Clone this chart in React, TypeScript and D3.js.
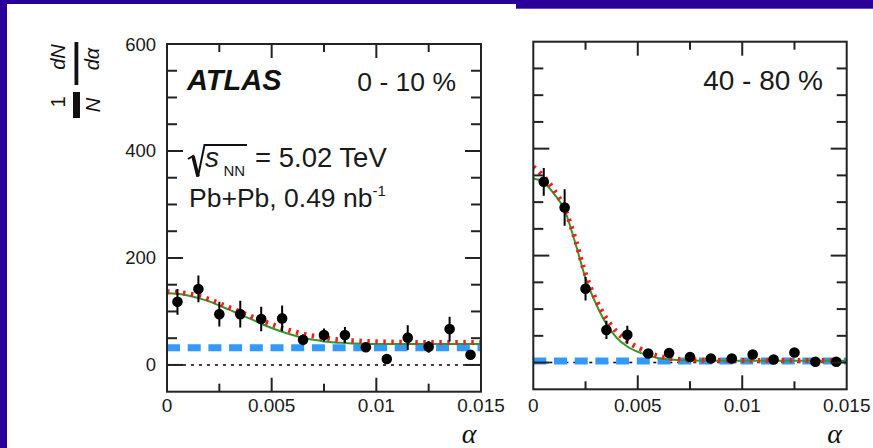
import React from 'react';
import * as d3 from 'd3';

// ---------- data ----------
const binCenters = [0.0005, 0.0015, 0.0025, 0.0035, 0.0045, 0.0055, 0.0065, 0.0075, 0.0085, 0.0095, 0.0105, 0.0115, 0.0125, 0.0135, 0.0145];
const values010 = [118, 142, 95, 95, 86, 87, 47, 56, 56, 33, 11, 51, 34, 67, 19];
const errors010 = [24, 25, 23, 25, 23, 24, 10, 12, 15, 9, 9, 23, 11, 23, 8];
const values4080 = [338, 290, 138, 61, 52, 17, 18, 10.5, 7.5, 7.5, 15, 5.6, 18.7, 1.5, 1.5];
const errors4080 = [26, 34, 22, 17, 17, 8, 8, 6, 6, 6, 8, 6, 8, 5, 5];

const fitAlpha = [0, 0.0005, 0.001, 0.0015, 0.002, 0.0025, 0.003, 0.0035, 0.004, 0.0045, 0.005, 0.0055, 0.006, 0.0065, 0.007, 0.0075, 0.008, 0.0085, 0.009, 0.0095, 0.01, 0.0105, 0.011, 0.0115, 0.012, 0.0125, 0.013, 0.0135, 0.014, 0.0145, 0.015];
const greenFit010 = [134, 133, 130, 125, 119, 111, 103, 94, 86, 77, 69, 62, 56, 51, 47, 44, 42, 41, 40, 39.5, 39, 39, 39, 39, 39, 39, 39, 39, 39, 39, 39];
const redFit010 = [137, 136, 133, 129, 123, 115, 107, 99, 91, 83, 76, 69, 63, 58, 54, 51, 48, 46, 45, 44, 43.5, 43, 42.5, 42.5, 42, 42, 42, 42, 42, 42, 42];
const greenFit4080 = [344, 337, 315, 285, 225, 158, 110, 72, 46, 30, 20, 13, 8, 5.5, 4.5, 4, 3.5, 3.5, 3.5, 3.5, 3.5, 3.5, 3.5, 3.5, 3.5, 3.5, 3.5, 3.5, 3.5, 3.5, 3.5];
const redFit4080 = [366, 348, 322, 288, 232, 165, 117, 82, 57, 40, 28, 19, 12, 8, 6, 5, 4.5, 4.5, 4, 4, 4, 4, 4, 4, 4, 4, 4, 4, 4, 4, 4];
const baseline010 = 32;
const baseline4080 = 3;

const xDomain = [0, 0.015];
const yDomain = [-50, 600];
const xTickValues = [0, 0.005, 0.01, 0.015];
const xTickLabels = ['0', '0.005', '0.01', '0.015'];
const xMinorTicks = [0.0025, 0.005, 0.0075, 0.01, 0.0125];
const yTickValues = [0, 200, 400, 600];
const yTickLabels = ['0', '200', '400', '600'];
const yMinorTicks = [0, 50, 100, 150, 200, 250, 300, 350, 400, 450, 500, 550];

const SANS = "'Liberation Sans', Arial, Helvetica, sans-serif";
const SERIF = "'Liberation Serif', 'Times New Roman', serif";

type PanelProps = {
  x0: number; x1: number; yTop: number; yBot: number;
  values: number[]; errors: number[];
  green: number[]; red: number[]; base: number;
  id: string; showYLabels: boolean;
};

function Panel(p: PanelProps) {
  const x = d3.scaleLinear().domain(xDomain).range([p.x0, p.x1]);
  const y = d3.scaleLinear().domain(yDomain).range([p.yBot, p.yTop]);
  const line = d3.line<number>()
    .x((_, i) => x(fitAlpha[i]))
    .y((d) => y(d))
    .curve(d3.curveMonotoneX);
  const fc = '#222';
  return (
    <g>
      <defs>
        <clipPath id={p.id}>
          <rect x={p.x0} y={p.yTop} width={p.x1 - p.x0} height={p.yBot - p.yTop} />
        </clipPath>
      </defs>
      <g clipPath={`url(#${p.id})`}>
        <line x1={x(0)} x2={x(0.015)} y1={y(0)} y2={y(0)} stroke="#000" strokeWidth={1.5} strokeDasharray="3,5" />
        <line x1={x(0)} x2={x(0.015)} y1={y(p.base)} y2={y(p.base)} stroke="#3399ff" strokeWidth={7} strokeDasharray="13,7.7" />
        <path d={line(p.green) || ''} fill="none" stroke="#2e9a2e" strokeWidth={2} />
        <path d={line(p.red) || ''} fill="none" stroke="#ff1a1a" strokeWidth={5} strokeDasharray="2.5,5.5" />
        {binCenters.map((c, i) => (
          <line key={'e' + i} x1={x(c)} x2={x(c)} y1={y(p.values[i] - p.errors[i])} y2={y(p.values[i] + p.errors[i])} stroke="#000" strokeWidth={2} />
        ))}
        {binCenters.map((c, i) => (
          <circle key={'m' + i} cx={x(c)} cy={y(p.values[i])} r={5.3} fill="#000" />
        ))}
      </g>
      {xMinorTicks.map((t, i) => {
        const major = Math.abs(t % 0.005) < 1e-9 || Math.abs((t % 0.005) - 0.005) < 1e-9;
        const len = major ? 14 : 8;
        return (
          <g key={'xt' + i}>
            <line x1={x(t)} x2={x(t)} y1={p.yBot} y2={p.yBot - len} stroke={fc} strokeWidth={2} />
            <line x1={x(t)} x2={x(t)} y1={p.yTop} y2={p.yTop + len} stroke={fc} strokeWidth={2} />
          </g>
        );
      })}
      {yMinorTicks.map((t, i) => {
        const major = t % 200 === 0;
        const len = major ? 16 : 10;
        return (
          <g key={'yt' + i}>
            <line x1={p.x0} x2={p.x0 + len} y1={y(t)} y2={y(t)} stroke={fc} strokeWidth={2} />
            <line x1={p.x1} x2={p.x1 - len} y1={y(t)} y2={y(t)} stroke={fc} strokeWidth={2} />
          </g>
        );
      })}
      <rect x={p.x0} y={p.yTop} width={p.x1 - p.x0} height={p.yBot - p.yTop} fill="none" stroke={fc} strokeWidth={2} />
      {xTickValues.map((t, i) => (
        <text key={'xl' + i} x={x(t)} y={405.5} textAnchor="middle" dominantBaseline="central" fontFamily={SANS} fontSize={19} fill="#1a1a1a">{xTickLabels[i]}</text>
      ))}
      {p.showYLabels && yTickValues.map((t, i) => (
        <text key={'yl' + i} x={156} y={y(t)} textAnchor="end" dominantBaseline="central" fontFamily={SANS} fontSize={18.5} fill="#1a1a1a">{yTickLabels[i]}</text>
      ))}
      <text x={(p.x1 - 12)} y={443} textAnchor="middle" fontFamily={SERIF} fontStyle="italic" fontSize={28} fill="#111">α</text>
    </g>
  );
}

export default function App() {
  const blue = '#2a0098';
  return (
    <svg width={873} height={448} style={{ position: 'absolute', left: 0, top: 0, background: '#fff' }}>
      <rect x={0} y={0} width={873} height={448} fill="#fff" />
      <rect x={0} y={0} width={873} height={4} fill={blue} />
      <rect x={516} y={0} width={357} height={8.7} fill={blue} />
      <rect x={0} y={0} width={7} height={448} fill={blue} />

      <Panel id="cl" x0={167} x1={481} yTop={44} yBot={391.7} values={values010} errors={errors010} green={greenFit010} red={redFit010} base={baseline010} showYLabels={true} />
      <Panel id="cr" x0={533.3} x1={846.7} yTop={41.7} yBot={389.3} values={values4080} errors={errors4080} green={greenFit4080} red={redFit4080} base={baseline4080} showYLabels={false} />

      <text x={187} y={90} fontFamily={SANS} fontWeight="bold" fontStyle="italic" fontSize={29} fill="#111">ATLAS</text>
      <text x={456} y={91} textAnchor="end" fontFamily={SANS} fontSize={26.5} fill="#1a1a1a">0 - 10 %</text>
      <text x={823} y={90} textAnchor="end" fontFamily={SANS} fontSize={28} fill="#1a1a1a">40 - 80 %</text>

      <path d="M188,159 L193,156 L198,176.5 L204.5,145 L247,145" fill="none" stroke="#111" strokeWidth={2} strokeLinejoin="miter" />
      <path d="M193,156 L198,176.5" fill="none" stroke="#111" strokeWidth={3.5} />
      <text x={205} y={166.7} fontFamily={SANS} fontStyle="italic" fontSize={28} fill="#1a1a1a">s</text>
      <text x={223.5} y={176} fontFamily={SANS} fontSize={15} fill="#1a1a1a">NN</text>
      <text x={255} y={166.7} fontFamily={SANS} fontSize={27.5} fill="#1a1a1a">= 5.02 TeV</text>
      <text x={189} y={206.7} fontFamily={SANS} fontSize={26.5} fill="#1a1a1a">
        Pb+Pb, 0.49 nb<tspan dy={-11} fontSize={15}>-1</tspan>
      </text>

      <text transform="translate(65,57) rotate(-90)" textAnchor="middle" fontFamily={SANS} fontStyle="italic" fontSize={20} fill="#111">dN</text>
      <rect x={74.5} y={42} width={3.8} height={43} fill="#111" />
      <text transform="translate(99,59) rotate(-90)" textAnchor="middle" fontFamily={SANS} fontStyle="italic" fontSize={20} fill="#111">dα</text>
      <text transform="translate(65,102) rotate(-90)" textAnchor="middle" fontFamily={SANS} fontSize={20} fill="#111">1</text>
      <rect x={73} y={92} width={7} height={26} fill="#111" />
      <text transform="translate(100,105) rotate(-90)" textAnchor="middle" fontFamily={SANS} fontStyle="italic" fontSize={20} fill="#111">N</text>
    </svg>
  );
}
